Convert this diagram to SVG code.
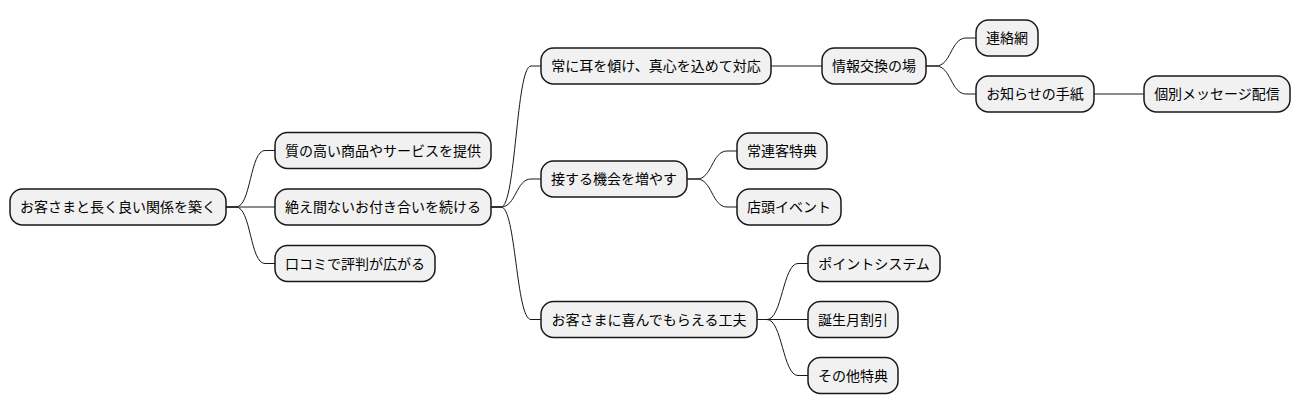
<svg xmlns="http://www.w3.org/2000/svg" width="1300" height="415" viewBox="0 0 1300 415">
  <style>
    .node rect { fill: #F1F1F1; stroke: #181818; stroke-width: 1.5; }
    .node text { font-family: "Noto Sans CJK JP", "Noto Sans", sans-serif; font-size: 14px; fill: #000000; text-anchor: middle; }
    #links path { fill: none; stroke: #181818; stroke-width: 1; }
  </style>
  <rect width="1300" height="415" fill="#FFFFFF"/>

  <!-- connectors: short lead, cubic bend, short tail -->
  <g id="links">
    <path d="M226,207 L236,207 C251,207 250,150.5 265,150.5 L275,150.5"/>
    <path d="M226,207 L275,207"/>
    <path d="M226,207 L236,207 C251,207 250,263.5 265,263.5 L275,263.5"/>
    <path d="M491,207 L501,207 C516,207 516,66 531,66 L541,66"/>
    <path d="M491,207 L501,207 C516,207 516,179 531,179 L541,179"/>
    <path d="M491,207 L501,207 C516,207 516,319.5 531,319.5 L541,319.5"/>
    <path d="M771,66 L822,66"/>
    <path d="M926,66 L936,66 C951,66 951,38 966,38 L976,38"/>
    <path d="M926,66 L936,66 C951,66 951,94 966,94 L976,94"/>
    <path d="M1094,94 L1144,94"/>
    <path d="M687,179 L697,179 C712,179 712,151 727,151 L737,151"/>
    <path d="M687,179 L697,179 C712,179 712,207 727,207 L737,207"/>
    <path d="M757,319.5 L767,319.5 C782,319.5 783,263.5 798,263.5 L808,263.5"/>
    <path d="M757,319.5 L808,319.5"/>
    <path d="M757,319.5 L767,319.5 C782,319.5 783,375.5 798,375.5 L808,375.5"/>
  </g>

  <g id="root" class="node">
    <rect x="10" y="189" width="216" height="36" rx="12.5"/>
    <text x="118" y="212">お客さまと長く良い関係を築く</text>
  </g>

  <g id="quality" class="node">
    <rect x="275" y="132.5" width="216" height="36" rx="12.5"/>
    <text x="383" y="155.5">質の高い商品やサービスを提供</text>
  </g>
  <g id="ongoing" class="node">
    <rect x="275" y="189" width="216" height="36" rx="12.5"/>
    <text x="383" y="212">絶え間ないお付き合いを続ける</text>
  </g>
  <g id="word-of-mouth" class="node">
    <rect x="275" y="245.5" width="160" height="36" rx="12.5"/>
    <text x="355" y="268.5">口コミで評判が広がる</text>
  </g>

  <g id="listen" class="node">
    <rect x="541" y="48" width="230" height="36" rx="12.5"/>
    <text x="656" y="71">常に耳を傾け、真心を込めて対応</text>
  </g>
  <g id="contact" class="node">
    <rect x="541" y="161" width="146" height="36" rx="12.5"/>
    <text x="614" y="184">接する機会を増やす</text>
  </g>
  <g id="delight" class="node">
    <rect x="541" y="301.5" width="216" height="36" rx="12.5"/>
    <text x="649" y="324.5">お客さまに喜んでもらえる工夫</text>
  </g>

  <g id="exchange" class="node">
    <rect x="822" y="48" width="104" height="36" rx="12.5"/>
    <text x="874" y="71">情報交換の場</text>
  </g>
  <g id="network" class="node">
    <rect x="976" y="20" width="62" height="36" rx="12.5"/>
    <text x="1007" y="43">連絡網</text>
  </g>
  <g id="letter" class="node">
    <rect x="976" y="76" width="118" height="36" rx="12.5"/>
    <text x="1035" y="99">お知らせの手紙</text>
  </g>
  <g id="message" class="node">
    <rect x="1144" y="76" width="146" height="36" rx="12.5"/>
    <text x="1217" y="99">個別メッセージ配信</text>
  </g>

  <g id="regulars" class="node">
    <rect x="737" y="133" width="90" height="36" rx="12.5"/>
    <text x="782" y="156">常連客特典</text>
  </g>
  <g id="event" class="node">
    <rect x="737" y="189" width="104" height="36" rx="12.5"/>
    <text x="789" y="212">店頭イベント</text>
  </g>

  <g id="points" class="node">
    <rect x="808" y="245.5" width="132" height="36" rx="12.5"/>
    <text x="874" y="268.5">ポイントシステム</text>
  </g>
  <g id="birthday" class="node">
    <rect x="808" y="301.5" width="90" height="36" rx="12.5"/>
    <text x="853" y="324.5">誕生月割引</text>
  </g>
  <g id="other" class="node">
    <rect x="808" y="357.5" width="90" height="36" rx="12.5"/>
    <text x="853" y="380.5">その他特典</text>
  </g>
</svg>
